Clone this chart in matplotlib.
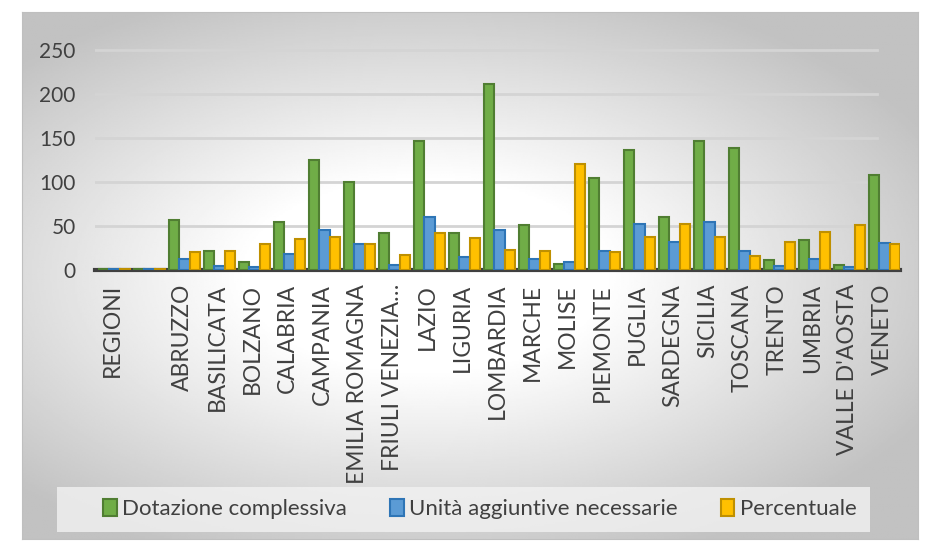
import matplotlib.pyplot as plt
import numpy as np
from matplotlib.patches import Patch, Rectangle

# data
regioni = ["REGIONI", "", "ABRUZZO", "BASILICATA", "BOLZANO", "CALABRIA",
           "CAMPANIA", "EMILIA ROMAGNA", "FRIULI VENEZIA\u2026", "LAZIO",
           "LIGURIA", "LOMBARDIA", "MARCHE", "MOLISE", "PIEMONTE", "PUGLIA",
           "SARDEGNA", "SICILIA", "TOSCANA", "TRENTO", "UMBRIA",
           "VALLE D'AOSTA", "VENETO"]
dotazione = [1, 1, 57, 22, 9, 54, 125, 100, 42, 146, 42, 211, 51, 7, 105,
             136, 60, 146, 139, 11, 34, 6, 108]
unita = [1, 1, 12, 5, 3, 18, 45, 30, 6, 60, 15, 45, 12, 9, 22, 52, 32, 54,
         22, 4, 13, 3, 31]
percentuale = [1, 1, 20, 22, 30, 35, 38, 30, 17, 42, 36, 23, 22, 120, 20, 38,
               52, 37, 16, 32, 43, 51, 29]
yticks = [0, 50, 100, 150, 200, 250]

series = [
    ("Dotazione complessiva", dotazione, "#70ad47", "#507e32"),
    ("Unità aggiuntive necessarie", unita, "#5b9bd5", "#2e75b6"),
    ("Percentuale", percentuale, "#ffc000", "#bf9000"),
]

plt.rcParams['font.family'] = ['Lato', 'DejaVu Sans']

fig = plt.figure(figsize=(9.25, 5.43), dpi=100)
fig.patch.set_facecolor("white")

# gradient background of the chart area (white centre, grey edges)
bg = fig.add_axes([22 / 925, 4 / 543, 896 / 925, 527 / 543], zorder=0)
yy, xx = np.mgrid[0:1:300j, 0:1:500j]
r = np.sqrt((xx - 0.45) ** 2 + ((yy - 0.5) * 1.1) ** 2)
shade = np.clip(1 - 0.55 * np.clip(r - 0.2, 0, None), 0.76, 1)
bg.imshow(shade, cmap="gray", vmin=0, vmax=1, aspect="auto",
          extent=[0, 1, 0, 1], origin="lower")
bg.set_xticks([])
bg.set_yticks([])
for s in bg.spines.values():
    s.set_color("#bfbfbf")

ax = fig.add_axes([95 / 925, 1 - 270 / 543, 805 / 925, 222 / 543], zorder=1)
ax.patch.set_alpha(0)

x = np.arange(len(regioni))
w = 0.3
offsets = [-0.25, 0.05, 0.35]
for (name, vals, face, edge), off in zip(series, offsets):
    ax.bar(x + off, vals, w, color=face, edgecolor=edge, linewidth=1.5,
           zorder=3)

# gridlines stop a little before the end of the floor line
for t in yticks[1:]:
    ax.axhline(t, xmin=0, xmax=0.972, color="#d4d4d4", linewidth=2,
               zorder=1)

ax.set_xlim(-0.5, len(regioni) - 0.5)
ax.set_ylim(0, 252)
ax.set_yticks(yticks)
for s in ["top", "right", "left"]:
    ax.spines[s].set_visible(False)
ax.spines["bottom"].set_color("#404040")
ax.spines["bottom"].set_linewidth(3)
ax.tick_params(axis="y", length=0, labelsize=15, labelcolor="#404040", pad=14)
ax.tick_params(axis="x", length=0, labelsize=16.5, labelcolor="#404040", pad=10)
ax.set_xticks(x)
ax.set_xticklabels(regioni, rotation=90, va="top")

# legend band
fig.patches.append(Rectangle((57 / 925, 1 - 532 / 543), 813 / 925, 45 / 543,
                             transform=fig.transFigure, facecolor="#f2f2f2",
                             edgecolor="none", alpha=0.8, zorder=2))
handles = [Patch(facecolor=f, edgecolor=e, linewidth=1.5, label=n)
           for n, _, f, e in series]
leg = fig.legend(handles=handles, loc="center", ncol=3,
                 bbox_to_anchor=(480 / 925, 1 - 509 / 543), fontsize=16,
                 frameon=False, handlelength=0.6,
                 handleheight=0.8, handletextpad=0.25, columnspacing=1.95,
                 borderpad=0.5, labelcolor="#404040")
leg.set_zorder(3)

fig.savefig("out.png", dpi=100)
